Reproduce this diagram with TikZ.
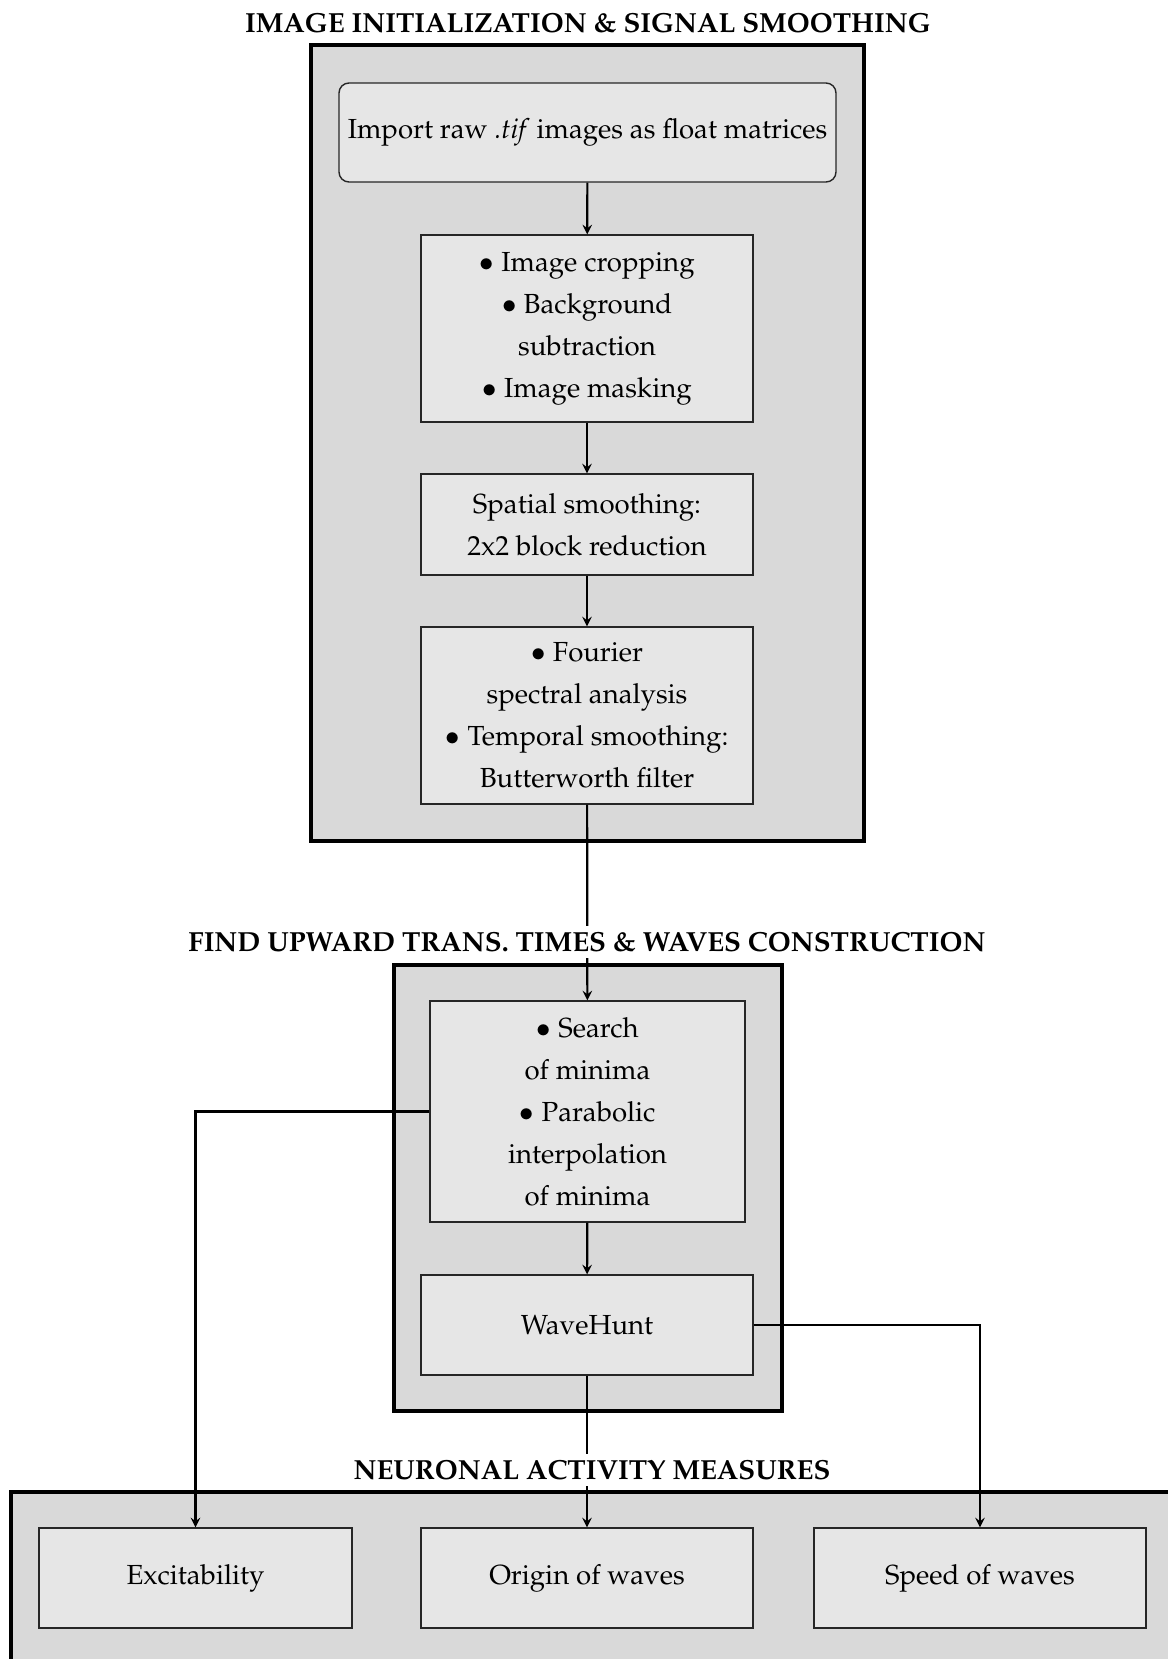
\documentclass[tikz,border=0pt]{standalone}
\usepackage[T1]{fontenc}
\usepackage{mathpazo}
\usetikzlibrary{positioning}
\definecolor{stagegray}{HTML}{D9D9D9}
\definecolor{boxgray}{HTML}{E6E6E6}

\begin{document}
\begin{tikzpicture}[
            x=0.5pt, y=-0.5pt,
            stage/.style={rectangle, draw=black, fill=stagegray, line width=1.6pt},
            task/.style={rectangle, draw=black!85, fill=boxgray, line width=0.7pt,
                         align=center, inner sep=2pt, minimum width=166pt,
                         font=\fontsize{13.8}{21}\selectfont},
            stagetitle/.style={fill=white, inner sep=3pt,
                               font=\bfseries\fontsize{13.8}{16}\selectfont},
            arrow/.style={->, >=stealth, line width=1.1pt}
        ]
            \useasboundingbox (0,0) rectangle (1167,1659);

            % Stage backgrounds
            \node[stage, minimum width=276.5pt, minimum height=398pt] (init) at (587.5,443) {};
            \node[stage, minimum width=194pt, minimum height=223pt] (waves) at (588,1188) {};
            \node[stage, minimum width=584.5pt, minimum height=99pt] (measures) at (595.5,1591) {};

            % Image initialization & signal smoothing
            \node[task, rounded corners=5pt, minimum width=248.5pt, minimum height=49.5pt] (import) at (587.5,132.5)
                {Import raw \textit{.tif} images as float matrices};
            \node[task, minimum height=93.5pt] (crop) at (587,328.5)
                {$\bullet$ Image cropping\\$\bullet$ Background\\subtraction\\$\bullet$ Image masking};
            \node[task, minimum height=50.5pt] (smooth) at (587,524.5)
                {Spatial smoothing:\\2x2 block reduction};
            \node[task, minimum height=88.5pt] (fourier) at (587,715.5)
                {$\bullet$ Fourier\\spectral analysis\\$\bullet$ Temporal smoothing:\\Butterworth filter};

            % Upward transition times & waves
            \node[task, minimum width=157.5pt, minimum height=110.5pt] (minima) at (587.5,1111.5)
                {$\bullet$ Search\\of minima\\$\bullet$ Parabolic\\interpolation\\of minima};
            \node[task, minimum height=50pt] (wavehunt) at (587,1325) {WaveHunt};

            % Measures
            \node[task, minimum width=156.5pt, minimum height=50pt] (excit) at (195.5,1578) {Excitability};
            \node[task, minimum height=50pt] (origin) at (587,1578) {Origin of waves};
            \node[task, minimum height=50pt] (speed) at (980,1578) {Speed of waves};

            \draw[arrow] (import) -- (crop);
            \draw[arrow] (crop) -- (smooth);
            \draw[arrow] (smooth) -- (fourier);
            \draw[arrow] (fourier) -- (minima);
            \draw[arrow] (minima) -- (wavehunt);
            \draw[arrow] (wavehunt) -- (origin);
            \draw[arrow] (minima.west) -| (excit);
            \draw[arrow] (wavehunt.east) -| (speed);

            % Stage titles
            \node[stagetitle] (initTitle) at (588,23) {IMAGE INITIALIZATION \& SIGNAL SMOOTHING};
            \node[stagetitle] (wavesTitle) at (587,942) {FIND UPWARD TRANS. TIMES \& WAVES CONSTRUCTION};
            \node[stagetitle] (measuresTitle) at (592,1470) {NEURONAL ACTIVITY MEASURES};
        \end{tikzpicture}
\end{document}
